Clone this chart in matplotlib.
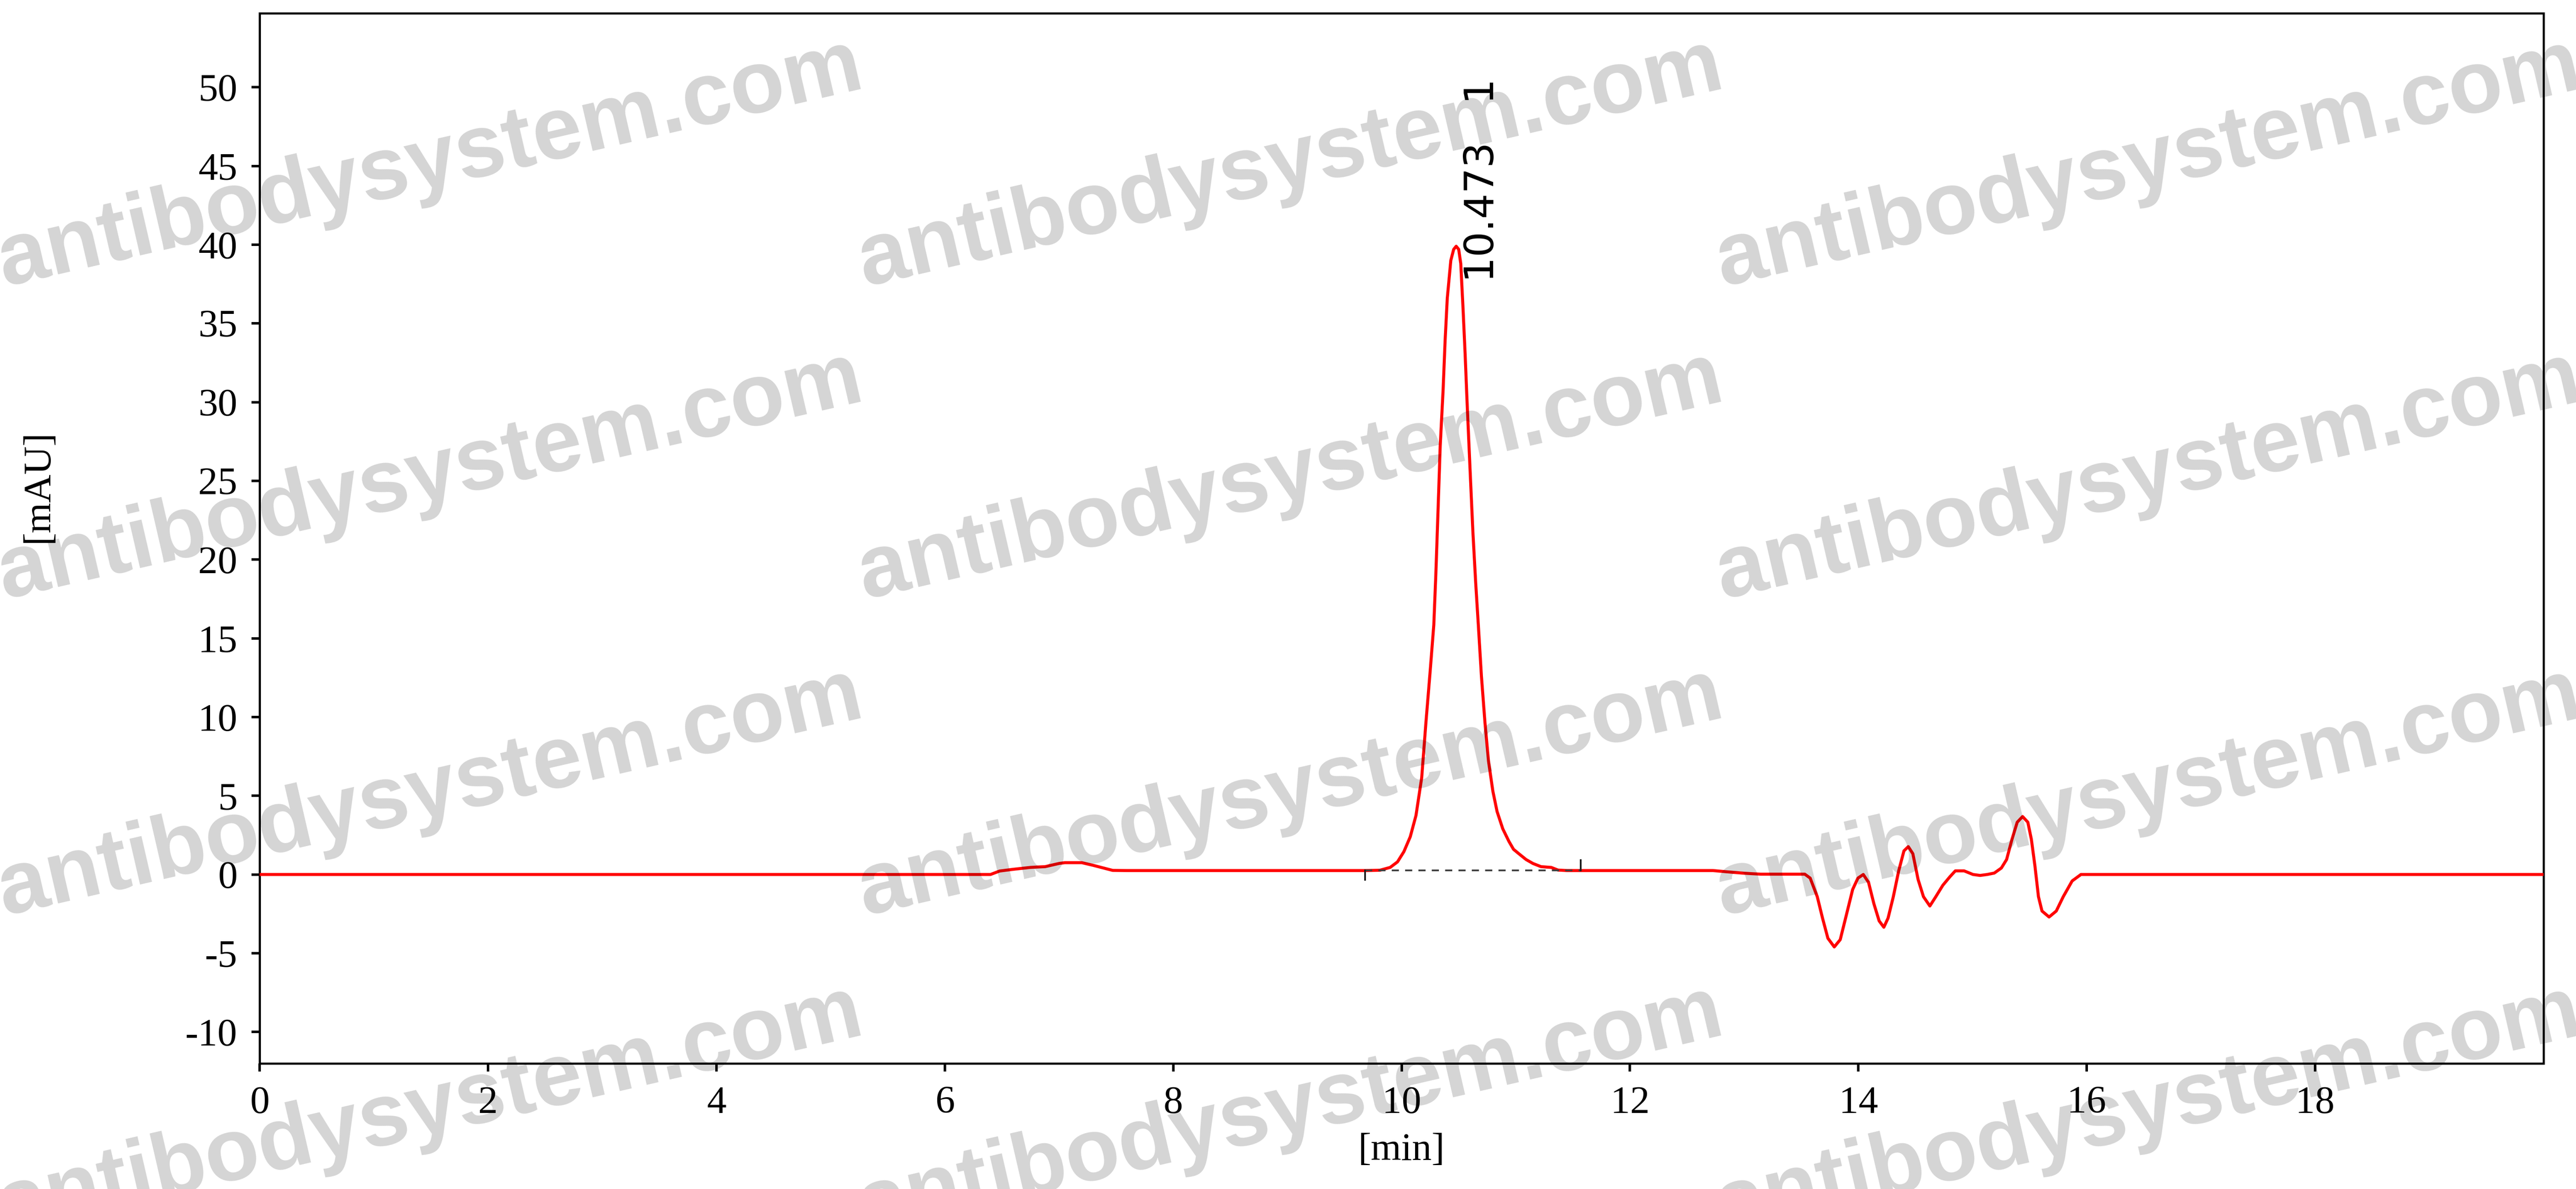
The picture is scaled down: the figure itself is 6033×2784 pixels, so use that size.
import numpy as np
import matplotlib
matplotlib.use("Agg")
import matplotlib.pyplot as plt

plt.rcParams['axes.unicode_minus'] = False

# chromatogram trace (time in min, signal in mAU)
time_min = [0.0, 6.40, 6.48, 6.60, 6.75, 6.88, 7.00, 7.05, 7.20, 7.30, 7.47, 7.60,
            9.68, 9.81, 9.90, 9.964, 10.02, 10.076, 10.126, 10.176, 10.213, 10.25,
            10.282, 10.30, 10.319, 10.338, 10.363, 10.381, 10.40, 10.431, 10.456,
            10.478, 10.50, 10.518, 10.537, 10.556, 10.574, 10.599, 10.624, 10.649,
            10.674, 10.699, 10.73, 10.761, 10.799, 10.836, 10.886, 10.94, 10.98,
            11.03, 11.09, 11.15, 11.22, 11.27, 11.31, 11.37, 11.45, 12.726, 12.85,
            13.0, 13.144, 13.531, 13.578, 13.64, 13.686, 13.733, 13.789, 13.841,
            13.888, 13.95, 13.996, 14.043, 14.089, 14.136, 14.182, 14.223, 14.26,
            14.306, 14.353, 14.399, 14.437, 14.477, 14.523, 14.57, 14.626, 14.678,
            14.74, 14.802, 14.849, 14.926, 15.004, 15.066, 15.128, 15.19, 15.252,
            15.298, 15.345, 15.391, 15.438, 15.484, 15.515, 15.546, 15.577, 15.608,
            15.67, 15.733, 15.794, 15.872, 15.949, 20.0]
signal_mau = [0.0, 0.0, 0.22, 0.33, 0.45, 0.50, 0.70, 0.75, 0.75, 0.58, 0.26, 0.25,
              0.25, 0.27, 0.45, 0.80, 1.45, 2.40, 3.75, 6.15, 9.65, 12.9,
              15.85, 19.1, 23.1, 27.2, 30.7, 33.9, 36.6, 39.0, 39.7,
              39.9, 39.7, 38.8, 36.1, 33.1, 29.9, 25.8, 21.8, 18.5,
              15.6, 12.6, 9.65, 7.2, 5.3, 4.0, 2.9, 2.1, 1.6,
              1.3, 0.95, 0.7, 0.5, 0.47, 0.45, 0.28, 0.25, 0.25, 0.17,
              0.08, 0.02, 0.02, -0.23, -1.41, -2.77, -4.05, -4.6, -4.14,
              -2.77, -0.95, -0.23, 0.0, -0.5, -1.86, -2.95, -3.35, -2.77,
              -1.41, 0.23, 1.5, 1.77, 1.32, -0.32, -1.41, -2.0, -1.41,
              -0.68, -0.14, 0.23, 0.23, 0.0, -0.06, 0.0, 0.09, 0.41,
              0.95, 2.23, 3.32, 3.68, 3.32, 2.23, 0.55, -1.41, -2.32,
              -2.7, -2.32, -1.41, -0.41, 0.0, 0.0]

# integration baseline of peak 1
integ_start = 9.68
integ_end = 11.57
integ_level = 0.25
peak_label = "10.473   1"
peak_label_pos = (10.71, 37.6)

x_ticks = list(range(0, 20, 2))
y_ticks = list(range(-10, 55, 5))

watermark = "antibodysystem.com"
wm_x = [0.167, 0.501, 0.834]
wm_y = [0.862, 0.599, 0.333, 0.066]

fig = plt.figure(figsize=(6033 / 300, 2784 / 300), dpi=300)
ax = fig.add_axes([0.1008, 0.1056, 0.8866, 0.8833])

ax.plot(time_min, signal_mau, color='#ff0000', lw=1.7, zorder=3,
        solid_joinstyle='round')
ax.plot([integ_start, integ_end], [integ_level, integ_level], color='#404040',
        lw=1.0, ls=(0, (4, 3.5)), zorder=4)
ax.plot([integ_start, integ_start], [integ_level, integ_level - 0.6],
        color='#202020', lw=1.0, zorder=4)
ax.plot([integ_end, integ_end], [integ_level, integ_level + 0.65],
        color='#202020', lw=1.0, zorder=4)

ax.text(peak_label_pos[0], peak_label_pos[1], peak_label, rotation=90,
        ha='center', va='bottom', fontsize=22.5, family='DejaVu Sans',
        color='black')

ax.set_xlim(0, 20)
ax.set_ylim(-12, 54.7)
ax.set_xticks(x_ticks)
ax.set_yticks(y_ticks)
ax.tick_params(direction='out', length=4.5, width=1.4, pad=8,
               labelsize=22, colors='black')
for lab in ax.get_xticklabels() + ax.get_yticklabels():
    lab.set_family('Liberation Serif')
for sp in ax.spines.values():
    sp.set_linewidth(1.2)
    sp.set_color('black')

fig.text(0.015, 0.591, "[mAU]", rotation=90, ha='center', va='center',
         fontsize=22, family='Liberation Serif')
fig.text(0.544, 0.0323, "[min]", ha='center', va='center',
         fontsize=22, family='Liberation Serif')

for yy in wm_y:
    for xx in wm_x:
        fig.text(xx, yy, watermark, rotation=13, ha='center', va='center',
                 fontsize=50, family='Liberation Sans', fontweight='bold',
                 color='black', alpha=0.17, zorder=10)

fig.savefig("out.png", dpi=300)
